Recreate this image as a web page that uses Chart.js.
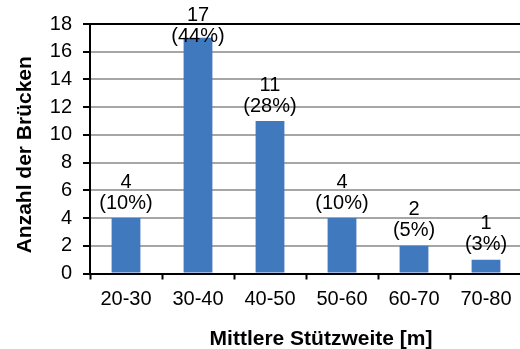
<!DOCTYPE html>
<html>
<head>
<meta charset="utf-8">
<script src="https://cdn.jsdelivr.net/npm/chart.js@4/dist/chart.umd.min.js"></script>
<style>
  html, body { margin: 0; padding: 0; background: #fff; overflow: hidden; }
  #wrap { width: 530px; height: 349px; }
</style>
</head>
<body>
<div id="wrap"><canvas id="chart" width="530" height="349"></canvas></div>
<script>
// Span classes (mean span length in metres) and number of bridges per class
const spanClasses = ['20-30', '30-40', '40-50', '50-60', '60-70', '70-80'];
const bridgeCounts = [4, 17, 11, 4, 2, 1];
const yTicks = [0, 2, 4, 6, 8, 10, 12, 14, 16, 18];

const yTitle = 'Anzahl der Brücken';
const xTitle = 'Mittlere Stützweite [m]';

const totalBridges = bridgeCounts.reduce((a, b) => a + b, 0);
const sharePercent = bridgeCounts.map(v => Math.round(v / totalBridges * 100));

const FONT = '"Liberation Sans", Arial, sans-serif';
const BAR_BLUE = '#4179BF';
const GRID_GREY = '#A6A6A6';

// Count and share written above each bar, kept inside the canvas at the top
const barLabels = {
  id: 'barLabels',
  afterDatasetsDraw(chart) {
    const ctx = chart.ctx;
    const meta = chart.getDatasetMeta(0);
    ctx.save();
    ctx.font = '20px ' + FONT;
    ctx.fillStyle = '#000';
    ctx.textAlign = 'center';
    ctx.textBaseline = 'middle';
    meta.data.forEach((bar, i) => {
      let first = bar.y - 36;
      first = Math.max(first, 15);
      ctx.fillText(String(bridgeCounts[i]), bar.x, first);
      ctx.fillText('(' + sharePercent[i] + '%)', bar.x, first + 21);
    });
    ctx.restore();
  }
};

// Axis captions
const axisCaptions = {
  id: 'axisCaptions',
  afterDraw(chart) {
    const ctx = chart.ctx;
    const area = chart.chartArea;
    ctx.save();
    ctx.font = 'bold 21px ' + FONT;
    ctx.fillStyle = '#000';
    ctx.textAlign = 'center';
    ctx.textBaseline = 'middle';
    ctx.fillText(xTitle, 321, 339);
    ctx.translate(25, (area.top + area.bottom) / 2 + 6);
    ctx.rotate(-Math.PI / 2);
    ctx.fillText(yTitle, 0, 0);
    ctx.restore();
  }
};

new Chart(document.getElementById('chart'), {
  type: 'bar',
  data: {
    labels: spanClasses,
    datasets: [{
      data: bridgeCounts,
      backgroundColor: BAR_BLUE,
      borderWidth: 0,
      barPercentage: 0.4,
      categoryPercentage: 1.0
    }]
  },
  options: {
    responsive: false,
    animation: false,
    events: [],
    layout: { padding: { top: 24, right: 8, left: 0, bottom: 0 } },
    plugins: {
      legend: { display: false },
      tooltip: { enabled: false }
    },
    scales: {
      x: {
        offset: true,
        grid: {
          offset: true,
          drawOnChartArea: false,
          drawTicks: true,
          tickLength: 6,
          tickColor: '#000',
          tickWidth: 2
        },
        border: { color: '#000', width: 2 },
        ticks: {
          color: '#000',
          font: { family: FONT, size: 20 },
          padding: 8,
          maxRotation: 0
        },
        afterFit(scale) { scale.height = 75.5; }
      },
      y: {
        min: 0,
        max: 18,
        afterBuildTicks(scale) { scale.ticks = yTicks.map(v => ({ value: v })); },
        grid: {
          color: c => (c.tick && c.tick.value === 18 ? '#000' : GRID_GREY),
          lineWidth: 2,
          tickColor: '#000',
          tickLength: 7,
          tickWidth: 2
        },
        border: { color: '#000', width: 2 },
        ticks: {
          color: '#000',
          font: { family: FONT, size: 20 },
          padding: 11
        },
        afterFit(scale) { scale.width = 90; }
      }
    }
  },
  plugins: [barLabels, axisCaptions]
});
</script>
</body>
</html>
